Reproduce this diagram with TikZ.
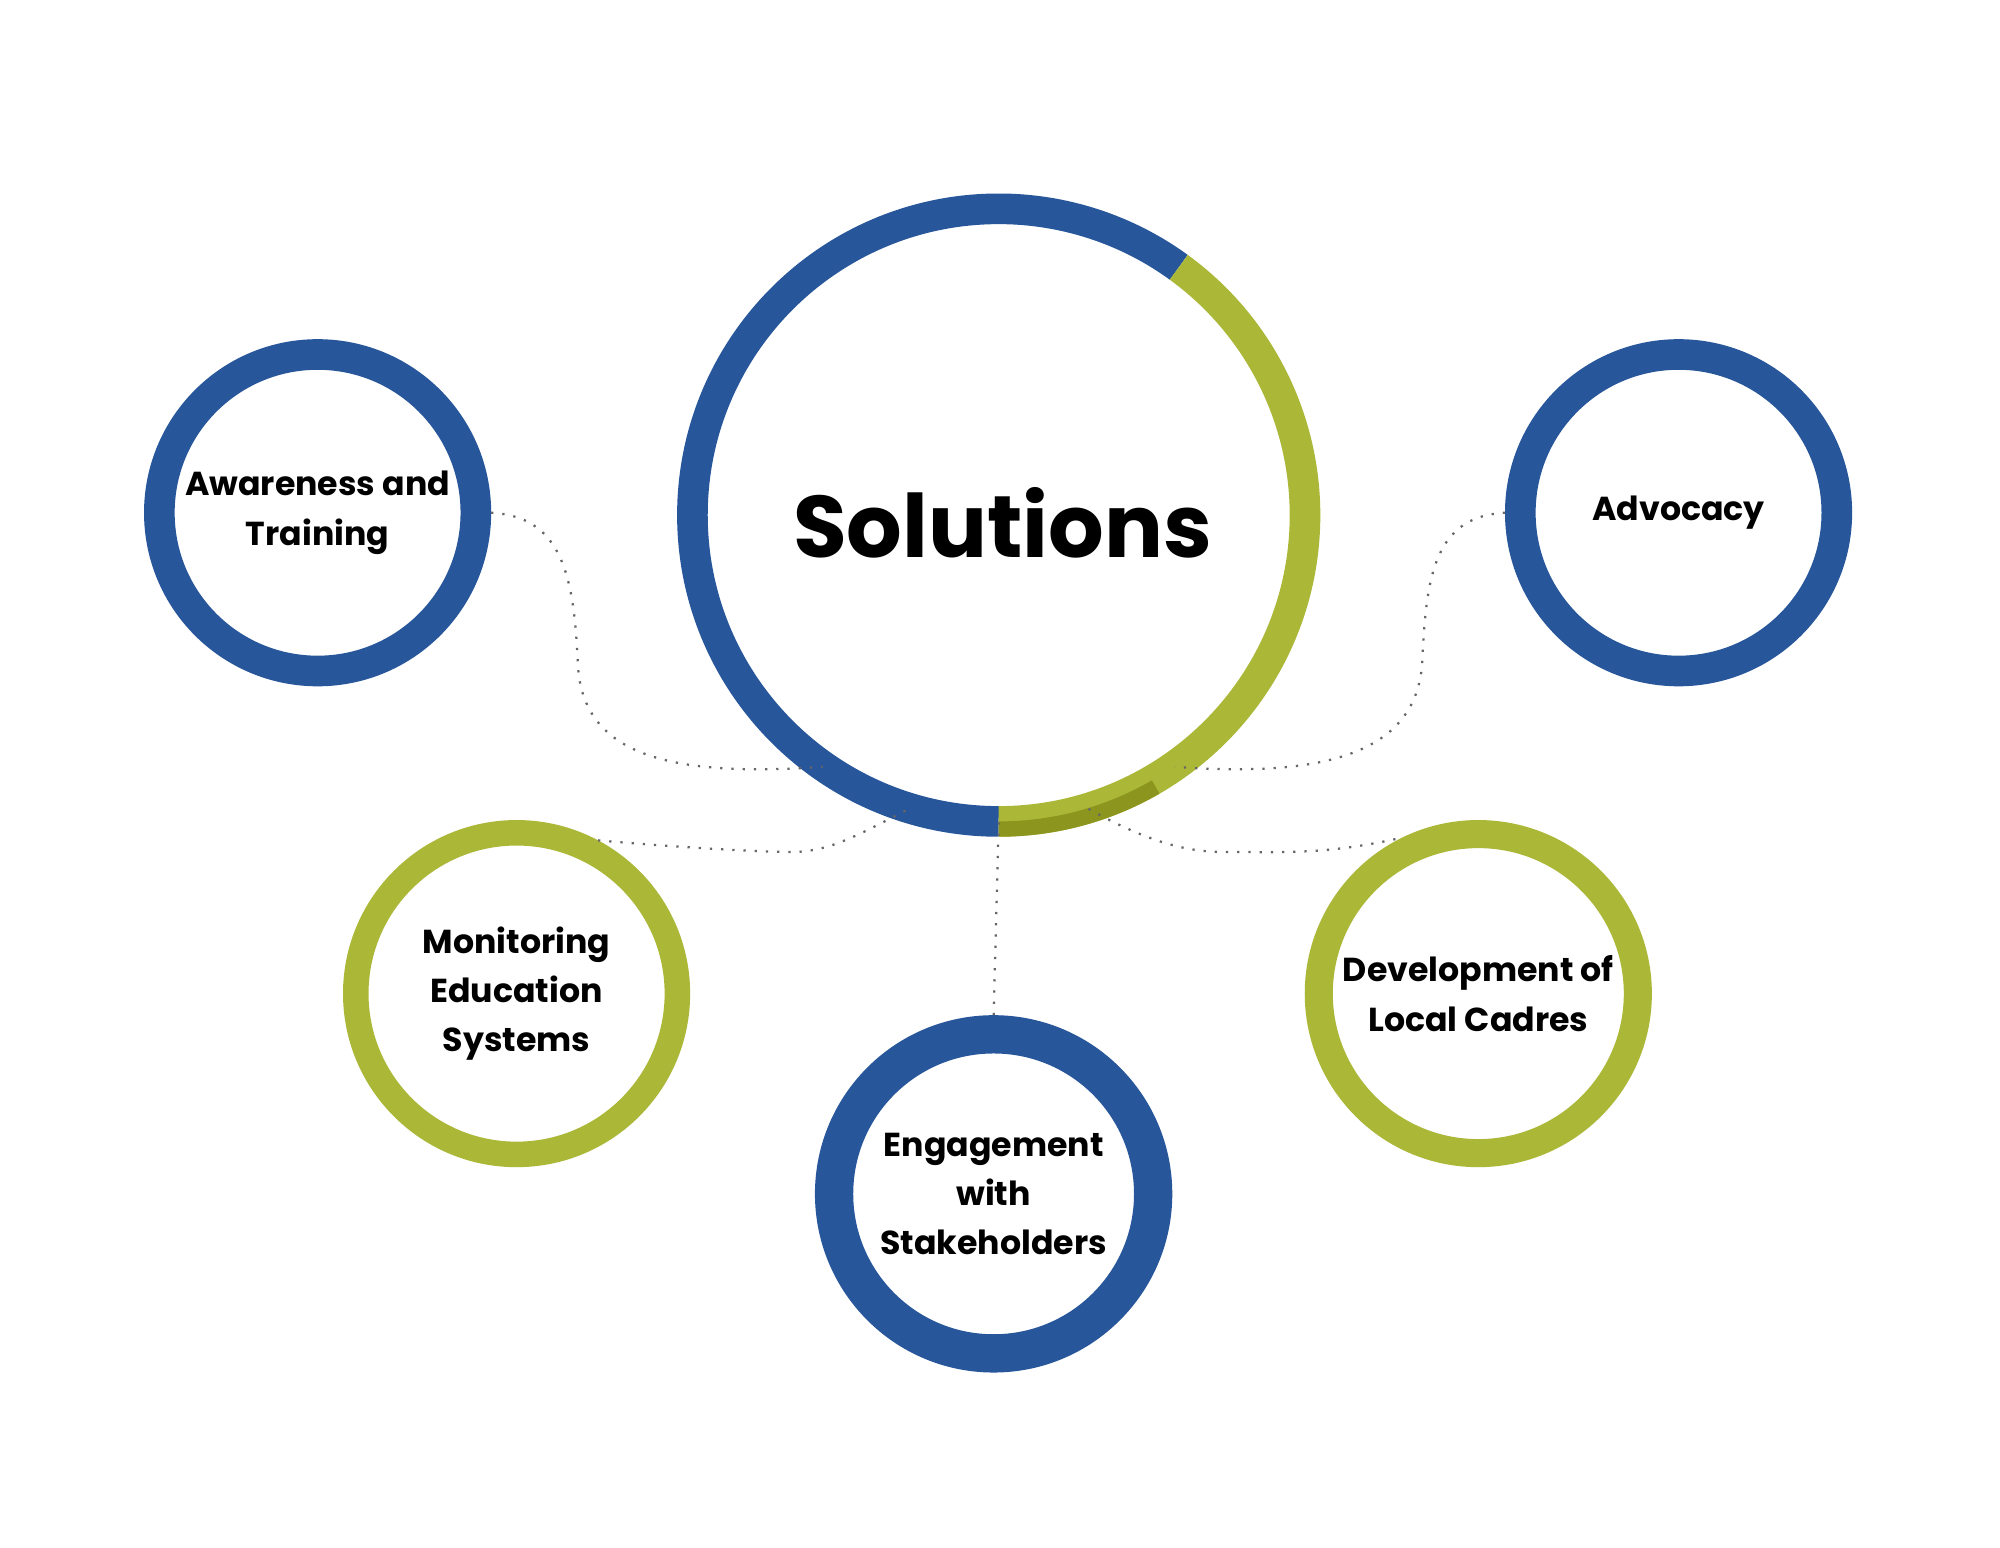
\documentclass[tikz,border=0pt]{standalone}
\usepackage{fontspec}
\setmainfont{Poppins}
\definecolor{cblue}{HTML}{27569A}
\definecolor{cgreen}{HTML}{ABB837}
\definecolor{cdkgreen}{HTML}{8C961F}
\begin{document}
\begin{tikzpicture}[x=0.01cm,y=-0.01cm,
  ring/.style={circle,draw=#1,fill=white,inner sep=0pt,align=center,font=\bfseries\fontsize{7.4}{11}\selectfont},
  conn/.style={draw=gray!80!black,line width=0.5pt,dotted}]
\fill[white] (0,0) rectangle (1568,1213);
% central ring
\node[circle,inner sep=0pt,minimum size=480*0.01cm] (sol) at (783,404) {};
\draw[cblue,line width=0.24cm] (783,644) arc[start angle=-90,end angle=-306,radius=2.40cm];
\draw[cgreen,line width=0.24cm] (783,644) arc[start angle=-90,end angle=54,radius=2.40cm];
\draw[cdkgreen,line width=0.12cm] (783,650) arc[start angle=-90,end angle=-60,radius=2.46cm];
\node[font=\bfseries\fontsize{19.5}{22}\selectfont] at (786,410) {Solutions};
% satellites
\node[ring=cblue,line width=0.24cm,minimum size=2.48cm] (aw) at (249,402) {Awareness and\\Training};
\node[ring=cblue,line width=0.24cm,minimum size=2.48cm] (ad) at (1316,402) {Advocacy};
\node[ring=cgreen,line width=0.20cm,minimum size=2.52cm] (mo) at (405,779) {Monitoring\\Education\\Systems};
\node[ring=cblue,line width=0.30cm,minimum size=2.50cm] (en) at (779,936) {Engagement\\with\\Stakeholders};
\node[ring=cgreen,line width=0.22cm,minimum size=2.50cm] (de) at (1159,779) {Development of\\Local Cadres};
% connectors
\draw[conn] (aw.0) .. controls (440,405) and (450,450) .. (453,520) .. controls (456,590) and (520,610) .. (sol.-125);
\draw[conn] (ad.180) .. controls (1125,405) and (1118,450) .. (1115,520) .. controls (1110,590) and (1040,610) .. (sol.-55);
\draw[conn] (mo.62) .. controls (540,665) and (600,668) .. (620,668) .. controls (650,668) and (672,655) .. (sol.-107);
\draw[conn] (sol.-90) -- (en.90);
\draw[conn] (sol.-73) .. controls (900,660) and (930,668) .. (960,668) .. controls (1010,668) and (1040,670) .. (de.116);
\end{tikzpicture}
\end{document}
